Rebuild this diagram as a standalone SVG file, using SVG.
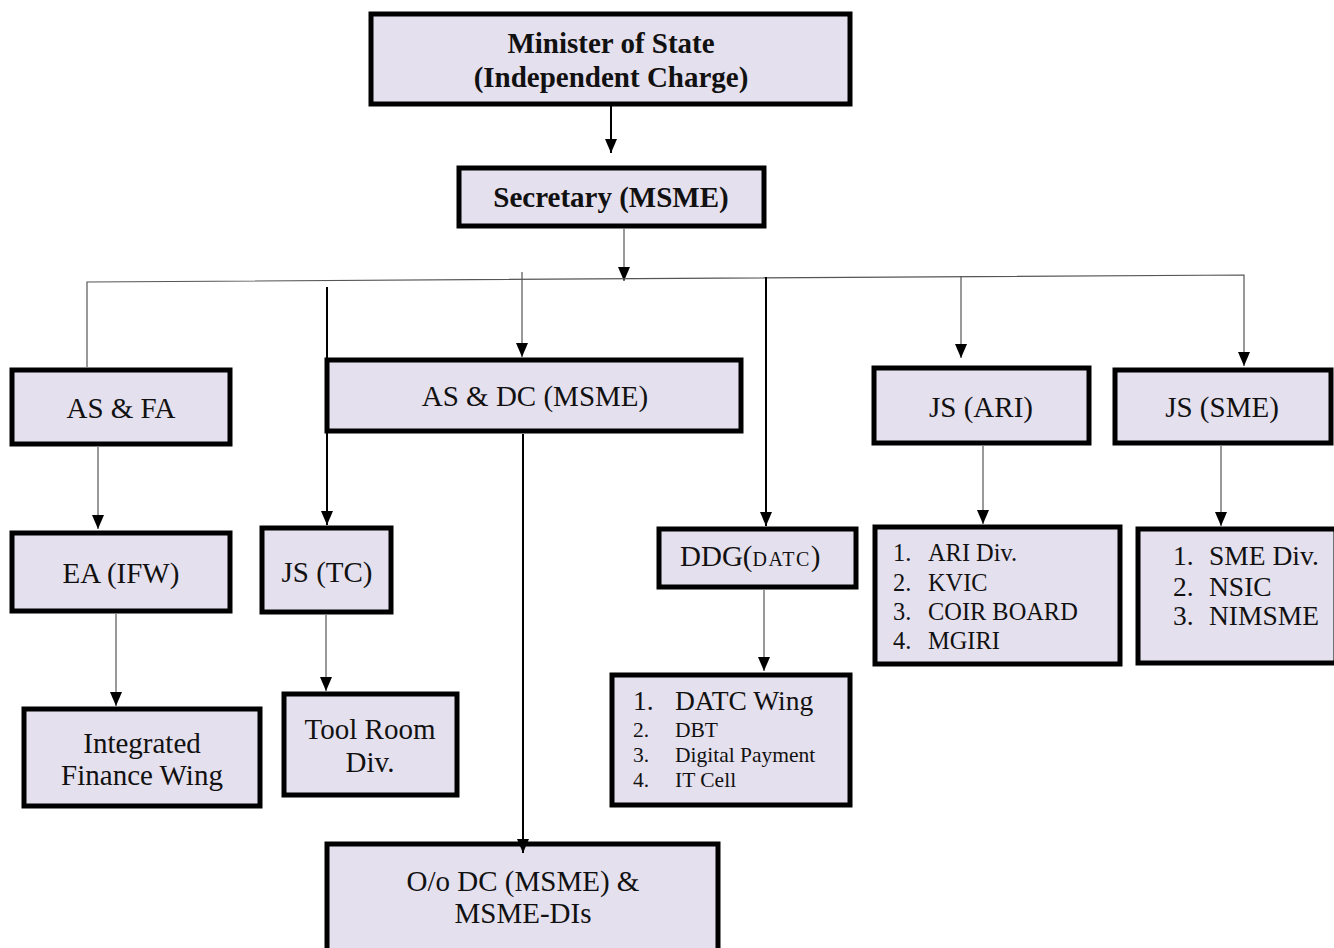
<svg xmlns="http://www.w3.org/2000/svg" width="1334" height="948" viewBox="0 0 1334 948">
<style>
.box{fill:#e5e0ee;stroke:#000;stroke-width:5}
.t{font-family:"Liberation Serif","Times New Roman",serif;fill:#111;font-size:29px}
.b{font-weight:bold;font-size:29px}
.c{text-anchor:middle}
.ari{font-size:24.4px}
.sme{font-size:27.5px}
.dbig{font-size:27.5px}
.dsm{font-size:21.5px}
.thin{stroke:#555;stroke-width:1.2;fill:none}
.thick{stroke:#000;stroke-width:2;fill:none}
</style>
<defs>
<marker id="ah" viewBox="0 0 14 12" refX="14" refY="6" markerWidth="14" markerHeight="12" markerUnits="userSpaceOnUse" orient="auto">
<path d="M0,0 L14,6 L0,12 Z" fill="#000"/>
</marker>
</defs>
<rect width="1334" height="948" fill="#fff"/>
<g id="minister">
<rect class="box" x="371" y="14" width="479" height="90"/>
<text class="t b c" x="611" y="53">Minister of State</text>
<text class="t b c" x="611" y="87">(Independent Charge)</text>
</g>
<g id="secretary">
<rect class="box" x="459" y="168" width="305" height="58"/>
<text class="t b c" x="611" y="207">Secretary (MSME)</text>
</g>
<g id="asfa">
<rect class="box" x="12" y="370" width="218" height="74"/>
<text class="t c" x="121" y="418">AS &amp; FA</text>
</g>
<g id="asdc">
<rect class="box" x="327" y="360" width="414" height="71"/>
<text class="t c" x="535" y="406">AS &amp; DC (MSME)</text>
</g>
<g id="jsari">
<rect class="box" x="874" y="368" width="215" height="75"/>
<text class="t c" x="981" y="417">JS (ARI)</text>
</g>
<g id="jssme">
<rect class="box" x="1115" y="370" width="216" height="73"/>
<text class="t c" x="1222" y="417">JS (SME)</text>
</g>
<g id="eaifw">
<rect class="box" x="12" y="533" width="218" height="78"/>
<text class="t c" x="121" y="583">EA (IFW)</text>
</g>
<g id="jstc">
<rect class="box" x="262" y="528" width="129" height="84"/>
<text class="t c" x="327" y="582">JS (TC)</text>
</g>
<g id="ddg">
<rect class="box" x="659" y="529" width="197" height="58"/>
<text class="t" x="680" y="566">DDG(<tspan font-size="20" letter-spacing="1.5">DATC</tspan>)</text>
</g>
<g id="arilist">
<rect class="box" x="875" y="527" width="245" height="137"/>
<text class="t ari" x="893" y="561">1.</text><text class="t ari" x="928" y="561">ARI Div.</text>
<text class="t ari" x="893" y="591">2.</text><text class="t ari" x="928" y="591">KVIC</text>
<text class="t ari" x="893" y="620">3.</text><text class="t ari" x="928" y="620">COIR BOARD</text>
<text class="t ari" x="893" y="649">4.</text><text class="t ari" x="928" y="649">MGIRI</text>
</g>
<g id="smelist">
<rect class="box" x="1138" y="529" width="198" height="134"/>
<text class="t sme" x="1173" y="565">1.</text><text class="t sme" x="1209" y="565">SME Div.</text>
<text class="t sme" x="1173" y="596">2.</text><text class="t sme" x="1209" y="596">NSIC</text>
<text class="t sme" x="1173" y="625">3.</text><text class="t sme" x="1209" y="625">NIMSME</text>
</g>
<g id="ifw">
<rect class="box" x="24" y="709" width="236" height="97"/>
<text class="t c" x="142" y="753">Integrated</text>
<text class="t c" x="142" y="785">Finance Wing</text>
</g>
<g id="toolroom">
<rect class="box" x="284" y="694" width="173" height="101"/>
<text class="t c" x="370" y="739">Tool Room</text>
<text class="t c" x="370" y="772">Div.</text>
</g>
<g id="datclist">
<rect class="box" x="612" y="675" width="238" height="130"/>
<text class="t dbig" x="633" y="710">1.</text><text class="t dbig" x="675" y="710">DATC Wing</text>
<text class="t dsm" x="633" y="737">2.</text><text class="t dsm" x="675" y="737">DBT</text>
<text class="t dsm" x="633" y="762">3.</text><text class="t dsm" x="675" y="762">Digital Payment</text>
<text class="t dsm" x="633" y="787">4.</text><text class="t dsm" x="675" y="787">IT Cell</text>
</g>
<g id="oodc">
<rect class="box" x="327" y="844" width="391" height="110"/>
<text class="t c" x="523" y="891">O/o DC (MSME) &amp;</text>
<text class="t c" x="523" y="923">MSME-DIs</text>
</g>
<g id="connectors">
<line class="thick" x1="611" y1="106" x2="611" y2="153" marker-end="url(#ah)"/>
<line class="thin" x1="624" y1="229" x2="624" y2="281" marker-end="url(#ah)"/>
<polyline class="thin" points="87,367 87,282 1244,275 1244,366" marker-end="url(#ah)"/>
<line class="thin" x1="522" y1="272" x2="522" y2="357" marker-end="url(#ah)"/>
<line class="thin" x1="961" y1="276" x2="961" y2="358" marker-end="url(#ah)"/>
<line class="thick" x1="327" y1="287" x2="327" y2="525" marker-end="url(#ah)"/>
<line class="thick" x1="766" y1="277" x2="766" y2="526" marker-end="url(#ah)"/>
<line class="thick" x1="523" y1="434" x2="523" y2="853" marker-end="url(#ah)"/>
<line class="thin" x1="98" y1="447" x2="98" y2="529" marker-end="url(#ah)"/>
<line class="thin" x1="116" y1="614" x2="116" y2="706" marker-end="url(#ah)"/>
<line class="thin" x1="326" y1="615" x2="326" y2="691" marker-end="url(#ah)"/>
<line class="thin" x1="764" y1="590" x2="764" y2="671" marker-end="url(#ah)"/>
<line class="thin" x1="983" y1="446" x2="983" y2="524" marker-end="url(#ah)"/>
<line class="thin" x1="1221" y1="446" x2="1221" y2="526" marker-end="url(#ah)"/>
</g>
</svg>
